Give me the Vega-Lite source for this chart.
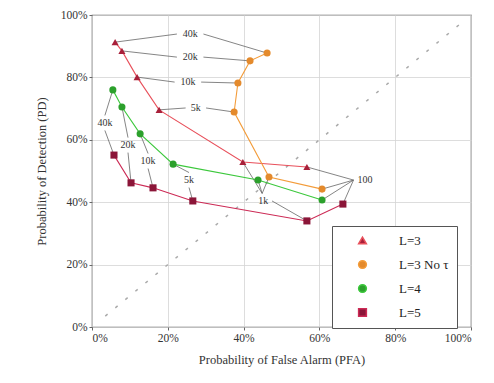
{
  "$schema": "https://vega.github.io/schema/vega-lite/v6.json",
  "width": 379,
  "height": 312,
  "autosize": "none",
  "padding": {"left": 92, "top": 15, "right": 23, "bottom": 56},
  "background": "white",
  "config": {
    "font": "Liberation Serif",
    "view": {"stroke": "#666666", "strokeWidth": 1.2},
    "axis": {"grid": true, "gridColor": "#d4d4d4", "gridWidth": 0.8, "domain": false, "tickColor": "#666666", "tickSize": 3, "labelColor": "#333333", "titleColor": "#333333", "labelFontSize": 11.5, "titleFontSize": 12.5, "titleFontWeight": "normal", "labelFont": "Liberation Serif", "titleFont": "Liberation Serif"},
    "legend": {"orient": "none", "legendX": 240, "legendY": 211, "fillColor": "white", "strokeColor": "#555555", "padding": 8, "labelFontSize": 13, "labelColor": "#222222", "symbolSize": 60, "rowPadding": 9, "symbolOffset": 16, "labelOffset": 30}
  },
  "datasets": {
    "series": [
      {"s": "L=3", "i": 1, "pfa": 6.1, "pd": 91.3},
      {"s": "L=3", "i": 2, "pfa": 7.9, "pd": 88.5},
      {"s": "L=3", "i": 3, "pfa": 11.9, "pd": 80.1},
      {"s": "L=3", "i": 4, "pfa": 17.7, "pd": 69.6},
      {"s": "L=3", "i": 5, "pfa": 39.8, "pd": 52.9},
      {"s": "L=3", "i": 6, "pfa": 56.7, "pd": 51.3},
      {"s": "L=3 No τ", "i": 1, "pfa": 46.2, "pd": 87.8},
      {"s": "L=3 No τ", "i": 2, "pfa": 41.7, "pd": 85.3},
      {"s": "L=3 No τ", "i": 3, "pfa": 38.5, "pd": 78.2},
      {"s": "L=3 No τ", "i": 4, "pfa": 37.5, "pd": 68.9},
      {"s": "L=3 No τ", "i": 5, "pfa": 46.7, "pd": 48.1},
      {"s": "L=3 No τ", "i": 6, "pfa": 60.7, "pd": 44.2},
      {"s": "L=4", "i": 1, "pfa": 5.5, "pd": 76.0},
      {"s": "L=4", "i": 2, "pfa": 7.9, "pd": 70.5},
      {"s": "L=4", "i": 3, "pfa": 12.7, "pd": 61.9},
      {"s": "L=4", "i": 4, "pfa": 21.4, "pd": 52.2},
      {"s": "L=4", "i": 5, "pfa": 43.8, "pd": 47.1},
      {"s": "L=4", "i": 6, "pfa": 60.7, "pd": 40.7},
      {"s": "L=5", "i": 1, "pfa": 5.8, "pd": 55.1},
      {"s": "L=5", "i": 2, "pfa": 10.3, "pd": 46.2},
      {"s": "L=5", "i": 3, "pfa": 16.1, "pd": 44.6},
      {"s": "L=5", "i": 4, "pfa": 26.6, "pd": 40.4},
      {"s": "L=5", "i": 5, "pfa": 56.7, "pd": 34.0},
      {"s": "L=5", "i": 6, "pfa": 66.2, "pd": 39.4}
    ],
    "segments": [
      {"x": 22.4, "y": 93.9, "x2": 6.1, "y2": 91.3},
      {"x": 29.4, "y": 93.9, "x2": 46.2, "y2": 87.8},
      {"x": 22.4, "y": 86.5, "x2": 7.9, "y2": 88.5},
      {"x": 29.4, "y": 86.5, "x2": 41.7, "y2": 85.3},
      {"x": 21.8, "y": 78.5, "x2": 11.9, "y2": 80.1},
      {"x": 28.8, "y": 78.5, "x2": 38.5, "y2": 78.2},
      {"x": 24.7, "y": 70.2, "x2": 17.7, "y2": 69.6},
      {"x": 30.1, "y": 70.2, "x2": 37.5, "y2": 68.9},
      {"x": 3.4, "y": 67.8, "x2": 5.5, "y2": 76.0},
      {"x": 3.4, "y": 63.0, "x2": 5.8, "y2": 55.1},
      {"x": 9.5, "y": 60.7, "x2": 7.9, "y2": 70.5},
      {"x": 9.5, "y": 55.9, "x2": 10.3, "y2": 46.2},
      {"x": 14.8, "y": 55.6, "x2": 12.7, "y2": 61.9},
      {"x": 14.8, "y": 50.8, "x2": 16.1, "y2": 44.6},
      {"x": 25.6, "y": 49.5, "x2": 21.4, "y2": 52.2},
      {"x": 25.6, "y": 44.7, "x2": 26.6, "y2": 40.4},
      {"x": 44.9, "y": 42.8, "x2": 39.8, "y2": 52.9},
      {"x": 44.9, "y": 42.8, "x2": 46.7, "y2": 48.1},
      {"x": 44.9, "y": 42.8, "x2": 43.8, "y2": 47.1},
      {"x": 47.5, "y": 40.4, "x2": 56.7, "y2": 34.0},
      {"x": 69.0, "y": 47.1, "x2": 56.7, "y2": 51.3},
      {"x": 69.0, "y": 47.1, "x2": 60.7, "y2": 44.2},
      {"x": 69.0, "y": 47.1, "x2": 60.7, "y2": 40.7},
      {"x": 69.0, "y": 47.1, "x2": 66.2, "y2": 39.4}
    ],
    "labels": [
      {"t": "40k", "x": 25.9, "y": 93.9},
      {"t": "20k", "x": 25.9, "y": 86.5},
      {"t": "10k", "x": 25.3, "y": 78.5},
      {"t": "5k", "x": 27.4, "y": 70.2},
      {"t": "40k", "x": 3.4, "y": 65.4},
      {"t": "20k", "x": 9.5, "y": 58.3},
      {"t": "10k", "x": 14.8, "y": 53.2},
      {"t": "5k", "x": 25.6, "y": 47.1},
      {"t": "1k", "x": 45.2, "y": 40.4},
      {"t": "100", "x": 72.0, "y": 47.1}
    ],
    "diag": [
      {"x": 3.5, "y": 3.5},
      {"x": 97, "y": 97}
    ]
  },
  "layer": [
    {
      "data": {"name": "diag"},
      "mark": {"type": "line", "color": "#aaaaaa", "strokeWidth": 1.5, "strokeDash": [3, 10]},
      "encoding": {
        "x": {"field": "x", "type": "quantitative", "scale": {"domain": [0, 100], "nice": false}, "axis": {"values": [0, 20, 40, 60, 80, 100], "labelExpr": "datum.value + '%'", "title": "Probability of False Alarm (PFA)", "titlePadding": 10}},
        "y": {"field": "y", "type": "quantitative", "scale": {"domain": [0, 100], "nice": false}, "axis": {"values": [0, 20, 40, 60, 80, 100], "labelExpr": "datum.value + '%'", "title": "Probability of Detection (PD)", "titlePadding": 12}}
      }
    },
    {
      "data": {"name": "segments"},
      "mark": {"type": "rule", "color": "#666666", "strokeWidth": 0.8},
      "encoding": {
        "x": {"field": "x", "type": "quantitative"},
        "y": {"field": "y", "type": "quantitative"},
        "x2": {"field": "x2"},
        "y2": {"field": "y2"}
      }
    },
    {
      "data": {"name": "labels"},
      "mark": {"type": "text", "fontSize": 10, "color": "#333333", "font": "Liberation Serif"},
      "encoding": {
        "x": {"field": "x", "type": "quantitative"},
        "y": {"field": "y", "type": "quantitative"},
        "text": {"field": "t"}
      }
    },
    {
      "data": {"name": "series"},
      "mark": {"type": "line", "strokeWidth": 1.1},
      "encoding": {
        "x": {"field": "pfa", "type": "quantitative"},
        "y": {"field": "pd", "type": "quantitative"},
        "order": {"field": "i"},
        "stroke": {"field": "s", "type": "nominal", "title": null, "scale": {"domain": ["L=3", "L=3 No τ", "L=4", "L=5"], "range": ["#e8505b", "#f39c3a", "#3cc83c", "#cc2a55"]}}
      }
    },
    {
      "data": {"name": "series"},
      "mark": {"type": "point", "filled": true, "opacity": 1, "size": 50},
      "encoding": {
        "x": {"field": "pfa", "type": "quantitative"},
        "y": {"field": "pd", "type": "quantitative"},
        "fill": {"field": "s", "type": "nominal", "title": null, "scale": {"domain": ["L=3", "L=3 No τ", "L=4", "L=5"], "range": ["#a8203a", "#e48a2c", "#2ca02c", "#8b1538"]}},
        "shape": {"field": "s", "type": "nominal", "title": null, "scale": {"domain": ["L=3", "L=3 No τ", "L=4", "L=5"], "range": ["triangle-up", "circle", "circle", "square"]}}
      }
    }
  ]
}
